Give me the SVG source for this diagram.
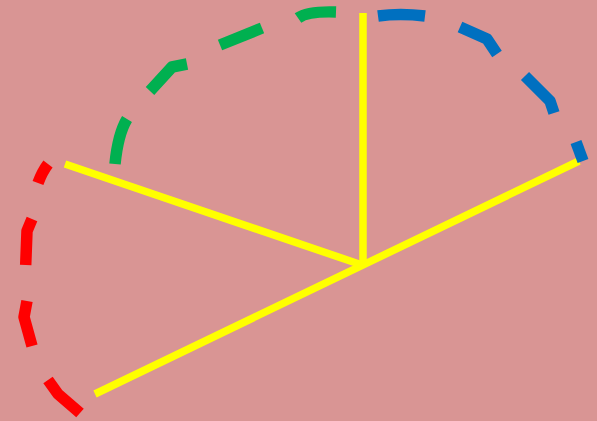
<svg xmlns="http://www.w3.org/2000/svg" width="597" height="421" viewBox="0 0 597 421">
<style>
.ray{stroke:#FFFF00;stroke-width:7.5;fill:none;stroke-linecap:butt}
.arc{fill:none;stroke-width:11.5;stroke-linecap:butt;stroke-linejoin:round}
.g{stroke:#00B050}.b{stroke:#0070C0}.r{stroke:#FF0000}
</style>
<rect width="597" height="421" fill="#D99594"/>
<g id="connectors">
<line class="ray" x1="363" y1="13" x2="363" y2="265"/>
<line class="ray" x1="65" y1="164" x2="362" y2="265"/>
<line class="ray" x1="579" y1="161" x2="95" y2="394"/>
</g>
<g id="arc-green">
<path class="arc g" d="M115,164 Q118,134 127,119"/>
<path class="arc g" d="M150,91 L172,67 L187,64"/>
<path class="arc g" d="M220,45 L262,28"/>
<path class="arc g" d="M298,18 Q308,11 336,12"/>
</g>
<g id="arc-blue">
<path class="arc b" d="M378,16 Q400,13 425,16"/>
<path class="arc b" d="M460,27 L487,39 L497,54"/>
<path class="arc b" d="M525,76 L550,101 L554,113"/>
<path class="arc b" d="M576,142 L583,161"/>
</g>
<g id="arc-red">
<path class="arc r" d="M48,164 Q42,172 38,183"/>
<path class="arc r" d="M32,219 L27,231 L25.7,265"/>
<path class="arc r" d="M27,301 L24,317 L32,346"/>
<path class="arc r" d="M48,380 L58,394 L80,413"/>
</g>
</svg>
